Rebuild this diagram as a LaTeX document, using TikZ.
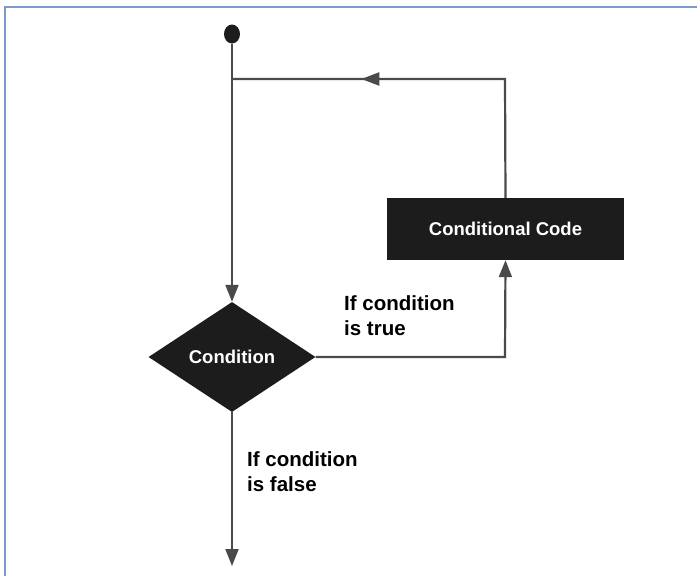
\documentclass[tikz,border=0pt]{standalone}
\usepackage{fontspec}
\setmainfont{Liberation Sans}
\usetikzlibrary{arrows.meta,shapes.geometric,decorations.markings}
\definecolor{lnc}{HTML}{4A4A4A}
\definecolor{shp}{HTML}{1C1C1C}
\definecolor{frm}{HTML}{7C98CC}
\begin{document}
\begin{tikzpicture}[x=1pt,y=-1pt,
  conn/.style={draw=lnc,line width=2.2pt},
  tip/.style={-{Triangle[length=17pt,width=13pt]}},
  shapebox/.style={fill=shp,text=white,font=\bfseries\fontsize{18.5}{22}\selectfont,inner sep=0pt},
  lbl/.style={font=\bfseries\fontsize{20.5}{25}\selectfont,align=left,anchor=north west,inner sep=0pt},
  midtip/.style={postaction={decorate},decoration={markings,mark=at position #1 with {\arrow{Triangle[length=18pt,width=13pt]}}}}]
\useasboundingbox (0,0) rectangle (697,576);
\fill[white] (0,0) rectangle (697,576);
\draw[frm,line width=1.6pt] (5,7) rectangle (705,590);
% nodes
\node[ellipse,fill=shp,minimum width=16pt,minimum height=19pt,inner sep=0pt] (start) at (232,34) {};
\coordinate (join) at (232,79);
\coordinate (corner) at (505,79);
\node[shapebox,minimum width=237pt,minimum height=62pt] (code) at (505.5,229) {Conditional Code};
\node[diamond,shapebox,minimum width=167pt,minimum height=110pt,aspect=1.52] (cond) at (232,357) {Condition};
\coordinate (turn) at (505,357);
\coordinate (end) at (232,566);
% connectors
\draw[conn] (start) -- (join);
\draw[conn,tip] (join) -- (cond.north);
\draw[conn,midtip=0.67] (code.north) -- (corner) -- (join);
\draw[conn,tip] (cond.east) -- (turn) -- (code.south);
\draw[conn,tip] (cond.south) -- (end);
% labels
\node[lbl] (ltrue) at (344,295) {If condition\\is true};
\node[lbl] (lfalse) at (247,451) {If condition\\is false};
\end{tikzpicture}
\end{document}
